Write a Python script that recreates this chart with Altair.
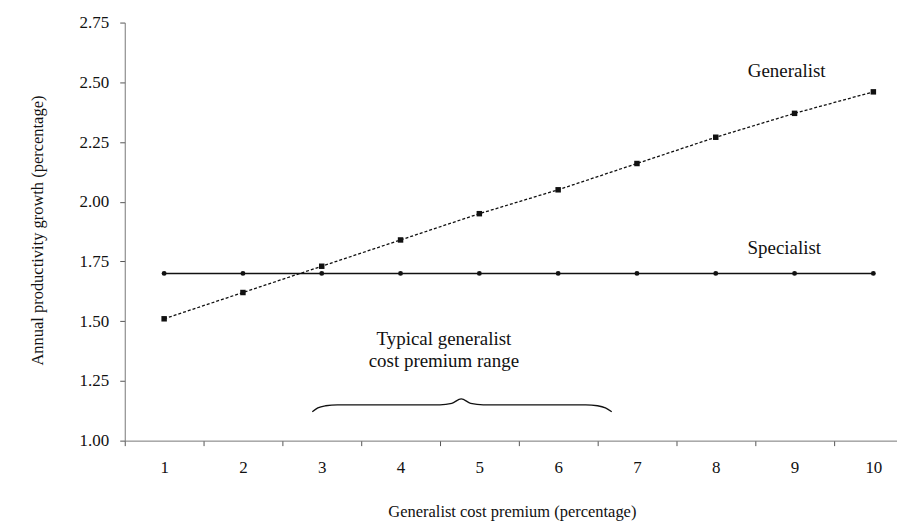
import altair as alt
import pandas as pd

premium = [1, 2, 3, 4, 5, 6, 7, 8, 9, 10]
generalist = [1.51, 1.62, 1.73, 1.84, 1.95, 2.05, 2.16, 2.27, 2.37, 2.46]
specialist = [1.70, 1.70, 1.70, 1.70, 1.70, 1.70, 1.70, 1.70, 1.70, 1.70]
y_ticks = [1.00, 1.25, 1.50, 1.75, 2.00, 2.25, 2.50, 2.75]

note_text = ["Generalist", "Specialist", "Typical generalist", "cost premium range"]
note_x = [8.90, 8.87, 4.55, 4.55]
note_y = [2.546, 1.805, 1.425, 1.335]

brace_x = [2.88, 2.95, 3.05, 3.2, 4.5, 4.65, 4.77, 4.89, 5.05, 6.35, 6.5, 6.6, 6.68]
brace_y = [1.121, 1.137, 1.146, 1.15, 1.15, 1.156, 1.175, 1.156, 1.15, 1.15, 1.146, 1.137, 1.121]

FONT = "Liberation Serif"
INK = "#111111"

gen = pd.DataFrame({"x": premium, "y": generalist})
spec = pd.DataFrame({"x": premium, "y": specialist})
notes = pd.DataFrame({"t": note_text, "x": note_x, "y": note_y})
brace = pd.DataFrame({"x": brace_x, "y": brace_y, "i": list(range(len(brace_x)))})

xs = alt.Scale(domain=[0.5, 10.3], nice=False, zero=False)
ys = alt.Scale(domain=[1.0, 2.75], nice=False, zero=False)

x_axis = alt.Axis(
    values=premium, format="d", title="Generalist cost premium (percentage)",
    grid=False, tickOffset=-39.5, labelOffset=39.5, tickSize=5, labelPadding=22,
    labelBaseline="middle",
    domainColor="#777777", tickColor="#555555", labelFontSize=17, labelColor=INK,
    titleFontSize=16.5, titleFontWeight="normal", titleColor=INK,
    titleX=388, titleY=71, titleBaseline="middle", titleAlign="center",
)
y_axis = alt.Axis(
    values=y_ticks, format=".2f", title="Annual productivity growth (percentage)",
    grid=False, tickSize=5, labelPadding=11, domainColor="#777777", tickColor="#555555",
    labelFontSize=17, labelColor=INK, titleFontSize=16.5, titleFontWeight="normal",
    titleColor=INK, titleX=-87, titleY=208, titleAlign="center", titleBaseline="middle",
)

X = alt.X("x:Q", scale=xs, axis=x_axis)
Y = alt.Y("y:Q", scale=ys, axis=y_axis)
Xn = alt.X("x:Q", scale=xs)
Yn = alt.Y("y:Q", scale=ys)

gen_line = alt.Chart(gen).mark_line(color=INK, strokeWidth=1.3, strokeDash=[3, 2]).encode(x=X, y=Y)
gen_pts = alt.Chart(gen).mark_point(shape="square", filled=True, size=30, color=INK, opacity=1).encode(x=Xn, y=Yn)
spec_line = alt.Chart(spec).mark_line(color=INK, strokeWidth=1.5).encode(x=Xn, y=Yn)
spec_pts = alt.Chart(spec).mark_point(shape="circle", filled=True, size=24, color=INK, opacity=1).encode(x=Xn, y=Yn)

note_layer = alt.Chart(notes).mark_text(font=FONT, fontSize=19, color=INK, align="center", baseline="middle").encode(
    x=Xn, y=Yn, text="t:N"
)
brace_layer = alt.Chart(brace).mark_line(color=INK, strokeWidth=1.3, interpolate="monotone").encode(
    x=Xn, y=Yn, order="i:Q"
)

chart = alt.layer(spec_line, gen_line, spec_pts, gen_pts, note_layer, brace_layer).properties(
    width=774, height=419,
    autosize=alt.AutoSizeParams(type="none"),
    padding={"left": 117, "top": 14, "right": 0, "bottom": 100},
    background="white",
).configure(font=FONT).configure_view(stroke=None)

chart.save("out.html", embed_options={"renderer": "svg", "actions": False})
